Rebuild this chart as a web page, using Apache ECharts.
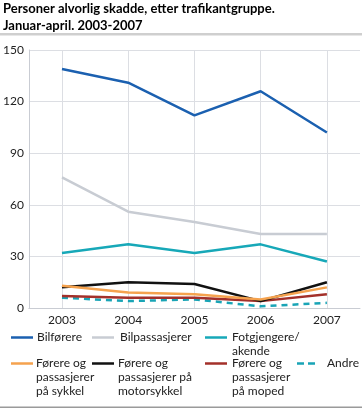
<!DOCTYPE html>
<html><head><meta charset="utf-8">
<script src="https://cdn.jsdelivr.net/npm/echarts@6/dist/echarts.min.js"></script>
<style>html,body{margin:0;padding:0;background:#fff}#c{width:362px;height:408px}</style>
</head><body><div id="c"></div>
<script>
const years = ['2003','2004','2005','2006','2007'];
const yTicks = [0, 30, 60, 90, 120, 150];
const bilforere = [139, 131, 112, 126, 102];
const bilpassasjerer = [76, 56, 50, 43, 43];
const fotgjengere = [32, 37, 32, 37, 27];
const sykkel = [13, 9, 8, 5, 12];
const motorsykkel = [12, 15, 14, 4, 15];
const moped = [7, 6, 6, 4, 8];
const andre = [6, 4, 5, 1, 3];

const names = ['Bilførere','Bilpassasjerer','Fotgjengere/\nakende','Førere og\npassasjerer\npå sykkel','Førere og\npassasjerer på\nmotorsykkel','Førere og\npassasjerer\npå moped','Andre'];
const values = [bilforere, bilpassasjerer, fotgjengere, sykkel, motorsykkel, moped, andre];
const colors = ['#1b60b0','#c8ccd3','#17a8b8','#f5a24e','#111111','#a3302a','#19a4b6'];
const dashed = [false,false,false,false,false,false,true];
const FONT = 'Lato, "Open Sans", sans-serif';

// [iconLeft, iconCenterY, textLeft, firstLineCenterY]
const legendPos = [
  [11, 337.5, 37, 337.5], [92, 337.5, 120, 337.5], [205, 337.5, 232, 337.5],
  [11, 363.5, 36, 363.5], [92, 363.5, 118, 363.5], [205, 363.5, 232, 363.5], [297, 363.5, 327, 363.5]
];
const LH = 14;
const ICON_H = 2.5;

const chart = echarts.init(document.getElementById('c'), null, {renderer:'canvas'});
const series = names.map((n,i)=>({
  name: n, type: 'line', data: values[i], symbol: 'none', showSymbol:false,
  lineStyle: {color: colors[i], width: 2.5, type: dashed[i] ? [6,5] : 'solid'},
  itemStyle: {color: colors[i]}, z: 10 - i
}));
const legends = [];
names.forEach((n,i)=>{
  const p = legendPos[i];
  legends.push({
    left: p[0], top: p[1] - ICON_H/2,
    data: [{name: n, icon: dashed[i] ? 'path://M0,0h7v2.5h-7zM11,0h7v2.5h-7z' : 'rect'}],
    itemWidth: dashed[i] ? 18 : 22, itemHeight: ICON_H, itemGap: 0, padding: 0,
    selectedMode: false, formatter: () => '',
    textStyle: {fontSize: 1, lineHeight: 1}
  });
  legends.push({
    left: p[2] - 5, top: p[3] - LH/2,
    data: [{name: n, icon: 'none'}],
    itemWidth: 0, itemHeight: LH, itemGap: 0, padding: 0,
    selectedMode: false,
    textStyle: {fontFamily: FONT, fontSize: 12, color: '#222', lineHeight: LH}
  });
});
chart.setOption({
  animation: false,
  textStyle: {fontFamily: FONT},
  title: {text: 'Personer alvorlig skadde, etter trafikantgruppe.\nJanuar-april. 2003-2007',
    left: 3, top: 0, padding: 0,
    textStyle: {fontFamily: FONT, fontSize: 13, fontWeight: 'bold', color: '#000', lineHeight: 17}},
  legend: legends,
  grid: {left: 27, right: 2, top: 50, bottom: 100, containLabel: false},
  xAxis: {type: 'category', data: years, boundaryGap: true,
    axisLine: {show: true, lineStyle: {color: '#c9ccd3', width: 1}},
    axisTick: {show: false},
    axisLabel: {fontFamily: FONT, fontSize: 12, color: '#222', margin: 6},
    splitLine: {show: true, alignWithLabel: true, lineStyle: {color: '#dcdee3', width: 1}}},
  yAxis: {type: 'value', min: yTicks[0], max: yTicks[yTicks.length-1], interval: 30,
    axisLine: {show: true, lineStyle: {color: '#c9ccd3', width: 1}},
    axisTick: {show: false},
    axisLabel: {fontFamily: FONT, fontSize: 12, color: '#222', margin: 5},
    splitLine: {show: true, lineStyle: {color: '#dcdee3', width: 1}}},
  graphic: [
    {type:'rect', shape:{x:0,y:33,width:362,height:2.5}, style:{fill:'#cfcfcf'}, silent:true},
    {type:'rect', shape:{x:0,y:406.5,width:362,height:1.5}, style:{fill:'#9a9a9a'}, silent:true}
  ],
  series: series
});
</script></body></html>
